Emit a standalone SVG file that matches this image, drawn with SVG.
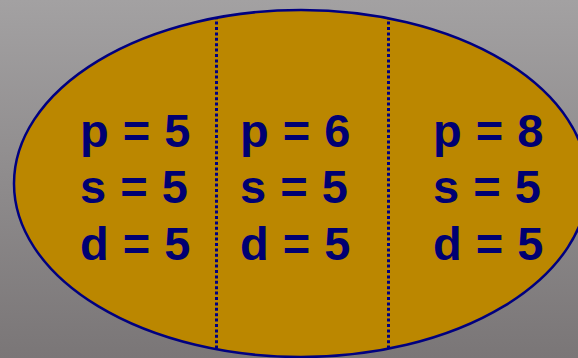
<svg xmlns="http://www.w3.org/2000/svg" width="578" height="358" viewBox="0 0 578 358">
<defs>
<linearGradient id="bg" x1="0" y1="0" x2="0" y2="1">
<stop offset="0" stop-color="#a3a1a2"/>
<stop offset="1" stop-color="#7a7677"/>
</linearGradient>
<clipPath id="ec"><ellipse cx="301" cy="183.5" rx="287" ry="173.5"/></clipPath>
</defs>
<style>
.t{font-family:"Liberation Sans",Arial,sans-serif;font-weight:bold;font-size:47px;fill:#000072;letter-spacing:0.5px}
.div{stroke:#000080;stroke-width:3;stroke-dasharray:3 2.4;fill:none}
</style>
<rect width="578" height="358" fill="url(#bg)"/>
<g id="ellipse">
<ellipse cx="301" cy="183.5" rx="287" ry="173.5" fill="#bb8700" stroke="#000080" stroke-width="2.5"/>
</g>
<g id="connectors" clip-path="url(#ec)">
<line class="div" x1="216.5" y1="0" x2="216.5" y2="358"/>
<line class="div" x1="388.5" y1="0" x2="388.5" y2="358"/>
</g>
<g id="col1">
<text class="t" x="80" y="147">p = 5</text>
<text class="t" x="80" y="203">s = 5</text>
<text class="t" x="80" y="260">d = 5</text>
</g>
<g id="col2">
<text class="t" x="240" y="147">p = 6</text>
<text class="t" x="240" y="203">s = 5</text>
<text class="t" x="240" y="260">d = 5</text>
</g>
<g id="col3">
<text class="t" x="433" y="147">p = 8</text>
<text class="t" x="433" y="203">s = 5</text>
<text class="t" x="433" y="260">d = 5</text>
</g>
</svg>
